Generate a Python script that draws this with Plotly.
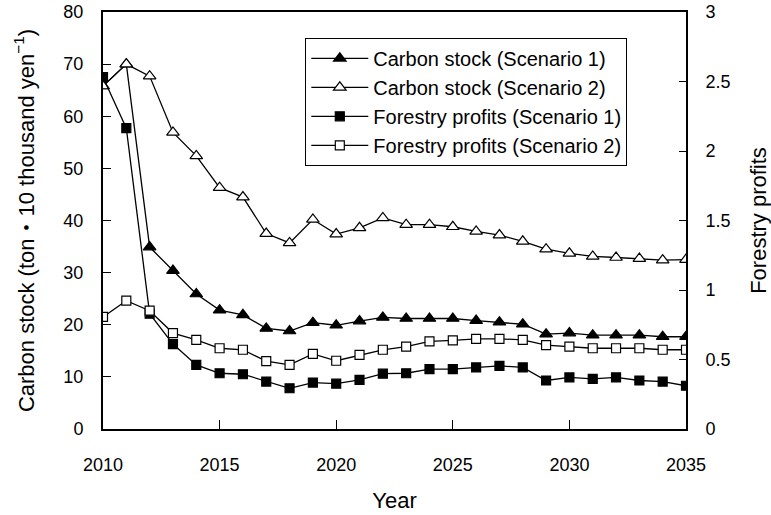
import plotly.graph_objects as go

years = list(range(2010, 2036))

# Carbon stock (left axis, ton·10 thousand yen^-1)
carbon_s1 = [65.8, 70.0, 34.9, 30.4, 25.9, 22.8, 21.9, 19.3, 18.8, 20.4, 19.9, 20.7, 21.4,
             21.2, 21.2, 21.2, 20.8, 20.5, 20.1, 18.2, 18.4, 18.0, 18.0, 18.0, 17.7, 17.7]
carbon_s2 = [65.8, 70.0, 67.7, 56.9, 52.4, 46.3, 44.5, 37.5, 35.7, 40.2, 37.4, 38.6, 40.5,
             39.2, 39.2, 38.8, 37.9, 37.2, 36.0, 34.5, 33.7, 33.1, 32.9, 32.7, 32.4, 32.5]

# Forestry profits (right axis)
profit_s1 = [2.531, 2.164, 0.829, 0.611, 0.461, 0.401, 0.394, 0.341, 0.293, 0.334, 0.326, 0.353, 0.398,
             0.401, 0.431, 0.431, 0.443, 0.454, 0.443, 0.349, 0.371, 0.360, 0.371, 0.349, 0.341, 0.311]
profit_s2 = [0.806, 0.923, 0.851, 0.690, 0.641, 0.581, 0.570, 0.488, 0.461, 0.540, 0.491, 0.533, 0.570,
             0.593, 0.630, 0.638, 0.649, 0.649, 0.641, 0.604, 0.593, 0.581, 0.581, 0.581, 0.570, 0.570]

names = ["Carbon stock (Scenario 1)", "Carbon stock (Scenario 2)",
         "Forestry profits (Scenario 1)", "Forestry profits (Scenario 2)"]

FONT = "Liberation Sans, Arial, Noto Sans CJK JP, sans-serif"

fig = go.Figure()

def add(y, name, symbol, fill, axis):
    fig.add_trace(go.Scatter(
        x=years, y=y, name=name, mode="lines+markers", yaxis=axis,
        line=dict(color="black", width=1.3),
        marker=dict(symbol=symbol, size=11 if "triangle" in symbol else 9,
                    color=fill, line=dict(color="black", width=1.2)),
    ))

add(carbon_s1, names[0], "triangle-up", "black", "y")
add(carbon_s2, names[1], "triangle-up", "white", "y")
add(profit_s1, names[2], "square", "black", "y2")
add(profit_s2, names[3], "square", "white", "y2")

fig.update_layout(
    width=771, height=515,
    margin=dict(l=103, r=85, t=12, b=86),
    paper_bgcolor="white", plot_bgcolor="white",
    font=dict(family=FONT, size=18, color="black"),
    showlegend=True,
    legend=dict(x=0.347, y=0.938, xanchor="left", yanchor="top",
                bordercolor="black", borderwidth=1, bgcolor="white",
                font=dict(size=20), tracegroupgap=0, itemwidth=57),
    xaxis=dict(range=[2010, 2035], tickmode="array", tickvals=[2010, 2015, 2020, 2025, 2030, 2035],
               ticks="inside", ticklen=9, tickcolor="black", showgrid=False, zeroline=False,
               showline=True, linecolor="black", linewidth=2, mirror=True,
               ticklabelstandoff=18, automargin=False,
               title=dict(text="Year", standoff=19)),
    yaxis=dict(range=[0, 80], tickmode="array", tickvals=[0, 10, 20, 30, 40, 50, 60, 70, 80],
               ticks="inside", ticklen=8, tickcolor="black", showgrid=False, zeroline=False,
               showline=True, linecolor="black", linewidth=2,
               ticklabelstandoff=14, automargin=False,
               title=dict(text="Carbon stock (ton・10 thousand yen<sup>−1</sup>)", standoff=23)),
    yaxis2=dict(range=[0, 3], overlaying="y", side="right",
                tickmode="array", tickvals=[0, 0.5, 1, 1.5, 2, 2.5, 3],
                ticktext=["0", "0.5", "1", "1.5", "2", "2.5", "3"],
                ticks="inside", ticklen=7, tickcolor="black", showgrid=False, zeroline=False,
                showline=True, linecolor="black", linewidth=2,
                ticklabelstandoff=14, automargin=False,
                title=dict(text="Forestry profits", standoff=21)),
)

fig.write_html("out.html")
